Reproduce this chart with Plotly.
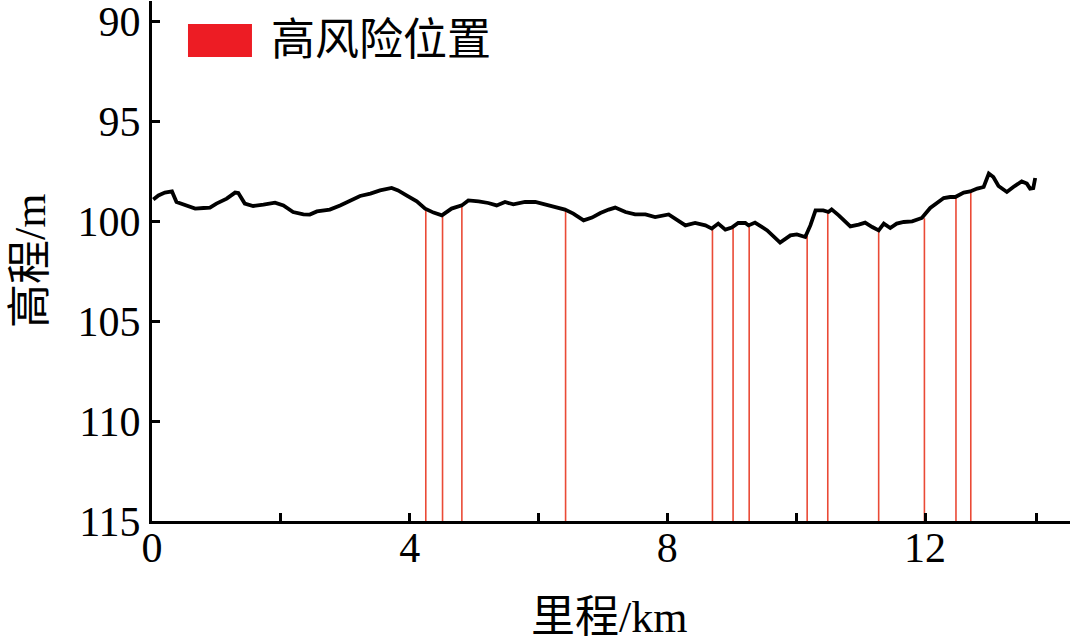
import plotly.graph_objects as go

# Elevation profile (km, m)
mileage_km = [0.02, 0.10, 0.20, 0.31, 0.38, 0.49, 0.59, 0.67, 0.80, 0.90,
              1.00, 1.16, 1.29, 1.34, 1.44, 1.57, 1.73, 1.91, 2.04, 2.19,
              2.35, 2.45, 2.56, 2.76, 2.92, 3.07, 3.23, 3.39, 3.54, 3.72,
              3.82, 3.95, 4.11, 4.24, 4.37, 4.50, 4.58, 4.65, 4.81, 4.91,
              5.07, 5.22, 5.35, 5.48, 5.61, 5.79, 5.95, 6.10, 6.26, 6.41,
              6.54, 6.70, 6.83, 6.96, 7.09, 7.19, 7.35, 7.50, 7.66, 7.81,
              8.02, 8.17, 8.28, 8.43, 8.59, 8.69, 8.79, 8.90, 9.00, 9.10,
              9.21, 9.26, 9.36, 9.55, 9.75, 9.91, 10.01, 10.14, 10.22, 10.30,
              10.42, 10.50, 10.55, 10.66, 10.84, 10.97, 11.07, 11.18, 11.28, 11.36,
              11.46, 11.56, 11.67, 11.80, 11.95, 12.08, 12.18, 12.29, 12.39, 12.47,
              12.60, 12.70, 12.81, 12.91, 12.99, 13.06, 13.14, 13.27, 13.37, 13.50,
              13.58, 13.63, 13.68, 13.71]
elevation_m = [98.92, 98.72, 98.58, 98.52, 99.05, 99.17, 99.25, 99.38, 99.35, 99.33,
               99.13, 98.88, 98.58, 98.60, 99.13, 99.25, 99.18, 99.08, 99.22, 99.55,
               99.67, 99.68, 99.52, 99.43, 99.22, 98.97, 98.75, 98.63, 98.47, 98.35,
               98.47, 98.72, 99.02, 99.38, 99.58, 99.72, 99.55, 99.38, 99.22, 98.97,
               99.02, 99.10, 99.22, 99.05, 99.17, 99.05, 99.05, 99.17, 99.30, 99.43,
               99.63, 99.97, 99.83, 99.60, 99.43, 99.33, 99.55, 99.67, 99.67, 99.80,
               99.67, 100.00, 100.22, 100.10, 100.22, 100.38, 100.13, 100.43, 100.33, 100.10,
               100.10, 100.22, 100.08, 100.47, 101.08, 100.72, 100.67, 100.80, 100.22, 99.47,
               99.47, 99.55, 99.42, 99.72, 100.27, 100.18, 100.08, 100.30, 100.47, 100.13,
               100.35, 100.13, 100.05, 100.02, 99.85, 99.35, 99.13, 98.85, 98.80, 98.80,
               98.58, 98.52, 98.38, 98.30, 97.63, 97.80, 98.25, 98.55, 98.30, 98.02,
               98.13, 98.38, 98.35, 97.85]

# High-risk positions (km) and the profile elevation at each (m)
risk_km = [4.25, 4.51, 4.81, 6.42, 8.70, 9.02, 9.27, 10.17, 10.49, 11.28, 11.99, 12.48, 12.71]
risk_elev = [99.38, 99.72, 99.22, 99.43, 100.38, 100.33, 100.22, 100.72, 99.55, 100.47, 99.86, 98.82, 98.56]

y_bottom = 115
y_top = 89
x_max = 14.25

x_tickvals = [0, 2, 4, 6, 8, 10, 12, 13.73]
x_ticktext = ["0", "", "4", "", "8", "", "12", ""]
y_tickvals = [90, 95, 100, 105, 110, 115]
y_ticktext = ["90", "95", "100", "105", "110", "115"]

legend_label = "高风险位置"
x_title = "里程/km"
y_title = "高程/m"

FONT = "Liberation Serif, 'Times New Roman', 'Noto Sans CJK SC', serif"
RED_LINE = "#EA4A36"
RED_FILL = "#ED1C24"
TICK_SIZE = 42
TITLE_SIZE = 44

# build vertical risk segments
seg_x, seg_y = [], []
for xk, ye in zip(risk_km, risk_elev):
    seg_x += [xk, xk, None]
    seg_y += [ye, y_bottom, None]

fig = go.Figure()
fig.add_trace(go.Scatter(x=seg_x, y=seg_y, mode="lines",
                         line=dict(color=RED_LINE, width=1.6),
                         name=legend_label, showlegend=False, hoverinfo="skip"))
fig.add_trace(go.Scatter(x=mileage_km, y=elevation_m, mode="lines",
                         line=dict(color="black", width=3.8),
                         showlegend=False))

# legend drawn manually (large swatch)
fig.add_shape(type="rect", xref="paper", yref="paper",
              x0=0.0392, x1=0.1089, y0=0.8923, y1=0.9558,
              fillcolor=RED_FILL, line=dict(width=0))
fig.add_annotation(xref="paper", yref="paper", x=0.1275, y=0.924,
                   xanchor="left", yanchor="middle", text=legend_label,
                   showarrow=False, font=dict(family=FONT, size=44, color="black"))

# axis titles
fig.add_annotation(xref="paper", yref="paper", x=0.498, y=-0.185,
                   xanchor="center", yanchor="middle", text=x_title,
                   showarrow=False, font=dict(family=FONT, size=TITLE_SIZE, color="black"))
fig.add_annotation(xref="paper", yref="paper", x=-0.133, y=0.50,
                   xanchor="center", yanchor="middle", text=y_title, textangle=-90,
                   showarrow=False, font=dict(family=FONT, size=TITLE_SIZE, color="black"))

fig.update_layout(
    width=1080, height=643,
    margin=dict(l=152, r=10, t=1, b=122, autoexpand=False),
    paper_bgcolor="white", plot_bgcolor="white",
    font=dict(family=FONT, size=TICK_SIZE, color="black"),
    showlegend=False,
)
fig.update_xaxes(range=[0, x_max], tickvals=x_tickvals, ticktext=x_ticktext,
                 ticks="inside", ticklen=8, tickwidth=2.5, tickcolor="black",
                 showline=True, linewidth=3, linecolor="black",
                 showgrid=False, zeroline=False, automargin=False,
                 ticklabeloverflow="allow", ticklabelstandoff=-12,
                 tickfont=dict(family=FONT, size=TICK_SIZE))
fig.update_yaxes(range=[y_bottom, y_top], tickvals=y_tickvals, ticktext=y_ticktext,
                 ticks="inside", ticklen=8, tickwidth=2.5, tickcolor="black",
                 showline=True, linewidth=3, linecolor="black",
                 showgrid=False, zeroline=False, automargin=False,
                 ticklabeloverflow="allow",
                 tickfont=dict(family=FONT, size=TICK_SIZE))

fig.write_html("out.html",
               config={"displayModeBar": False},
               post_script="document.body.style.margin='0px';document.body.style.overflow='hidden';")
